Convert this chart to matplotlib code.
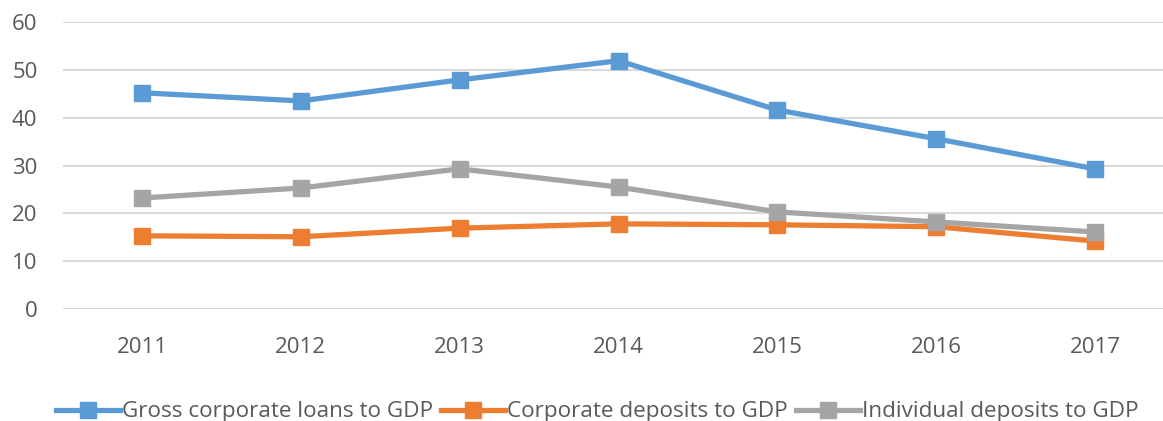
import matplotlib.pyplot as plt

years = ["2011", "2012", "2013", "2014", "2015", "2016", "2017"]
loans = [45.2, 43.5, 47.9, 51.9, 41.6, 35.6, 29.3]
corp_deposits = [15.3, 15.1, 16.9, 17.8, 17.6, 17.2, 14.2]
indiv_deposits = [23.2, 25.3, 29.3, 25.5, 20.3, 18.2, 16.1]

plt.rcParams['font.family'] = ['Open Sans', 'DejaVu Sans']

fig = plt.figure(figsize=(11.63, 4.21), dpi=100)
ax = fig.add_axes([62.5 / 1163, 112 / 421, 1112 / 1163, 287 / 421])

x = range(len(years))
style = dict(linewidth=3.8, marker='s', markersize=11, solid_joinstyle='round')
ax.plot(x, loans, color='#5B9BD5', label='Gross corporate loans to GDP', **style)
ax.plot(x, corp_deposits, color='#ED7D31', label='Corporate deposits to GDP', **style)
ax.plot(x, indiv_deposits, color='#A5A5A5', label='Individual deposits to GDP', **style)

ax.set_xlim(-0.5, len(years) - 0.5)
ax.set_ylim(0, 60)
ax.set_yticks(range(0, 61, 10))
ax.set_xticks(list(x), labels=years)
ax.grid(axis='y', color='#D9D9D9', linewidth=1.5)
ax.set_axisbelow(True)
for s in ax.spines.values():
    s.set_visible(False)
ax.tick_params(axis='both', length=0, labelsize=16, labelcolor='#595959')
ax.tick_params(axis='x', pad=20)
ax.tick_params(axis='y', pad=18)

fig.legend(loc='center', bbox_to_anchor=(597 / 1163, 9 / 421), ncol=3, frameon=False,
           fontsize=16.2, labelcolor='#595959', handlelength=2.85, handletextpad=0.1,
           columnspacing=0.35, borderaxespad=0)

fig.savefig('out.png', dpi=100)
